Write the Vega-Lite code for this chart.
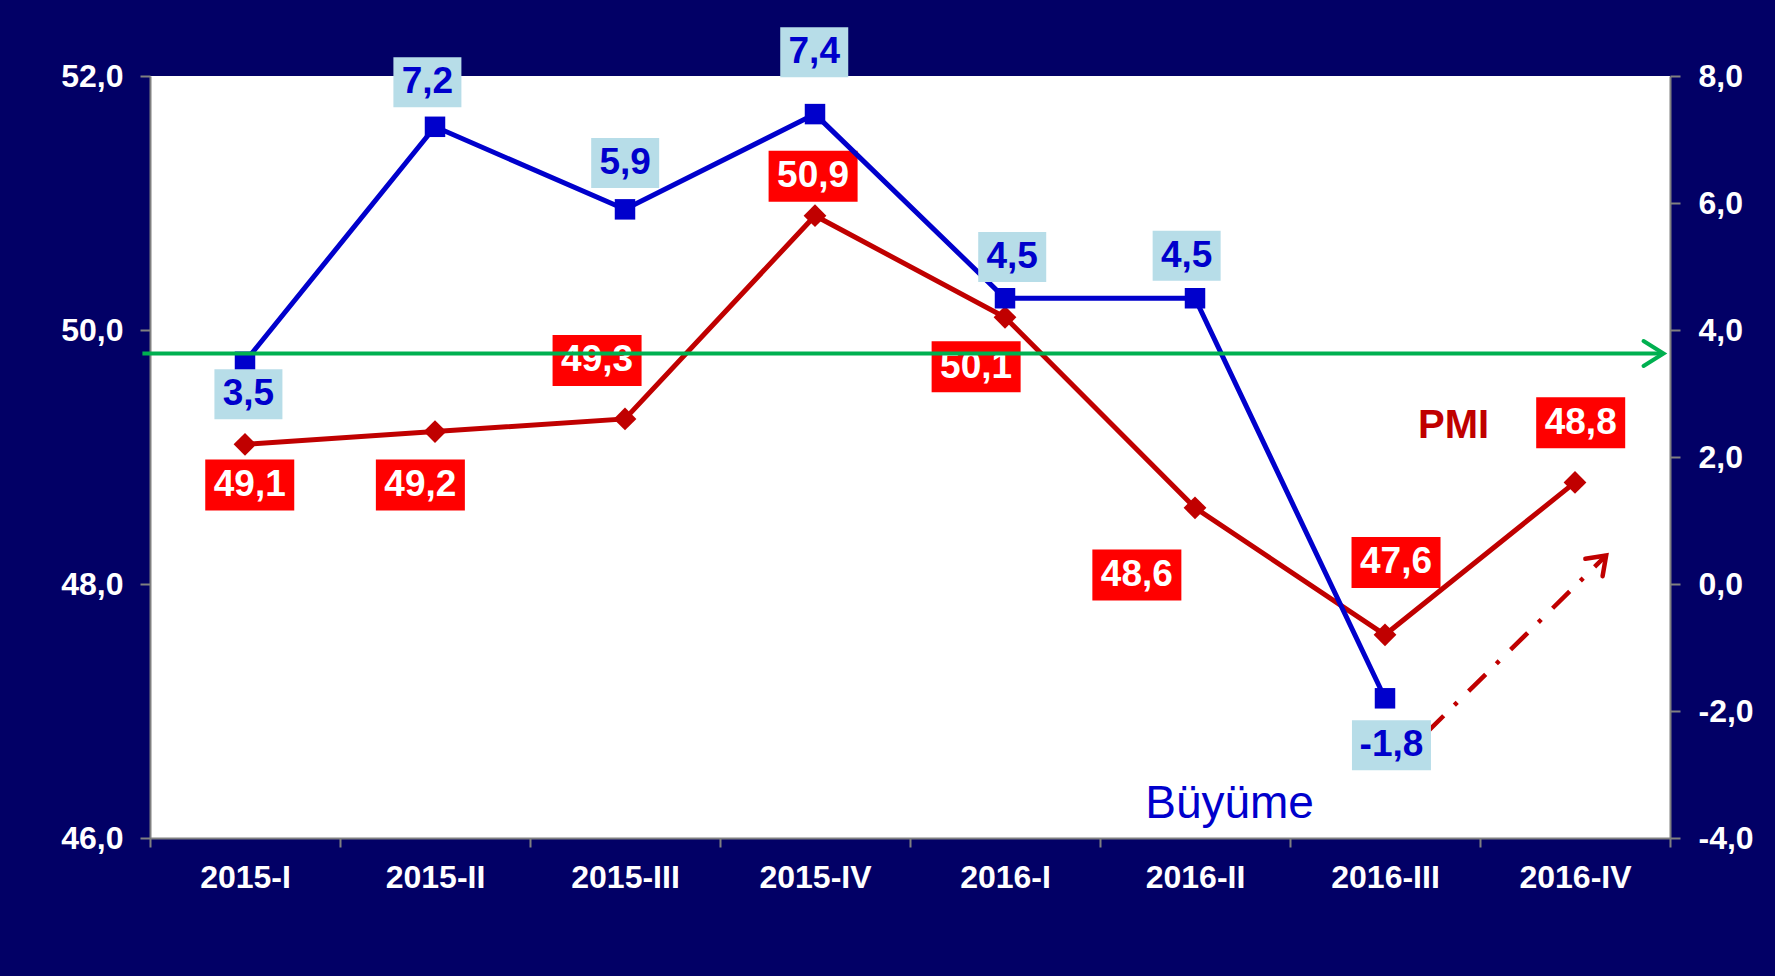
{
  "$schema": "https://vega.github.io/schema/vega-lite/v6.json",
  "width": 1520,
  "height": 762,
  "autosize": {"type": "none"},
  "padding": {"left": 150, "top": 76, "right": 105, "bottom": 138},
  "background": "#020066",
  "config": {
    "view": {"fill": "#FFFFFF", "stroke": null},
    "axis": {
      "domainColor": "#808080", "domainWidth": 2,
      "tickColor": "#808080", "tickWidth": 2, "tickSize": 10,
      "labelColor": "#FFFFFF", "labelFont": "Liberation Sans", "labelFontWeight": "bold", "labelFontSize": 32,
      "grid": false
    },
    "text": {"font": "Liberation Sans"}
  },
  "datasets": {
    "pmi": [
      {"q": "2015-I", "i": 0, "v": 49.1},
      {"q": "2015-II", "i": 1, "v": 49.2},
      {"q": "2015-III", "i": 2, "v": 49.3},
      {"q": "2015-IV", "i": 3, "v": 50.9},
      {"q": "2016-I", "i": 4, "v": 50.1},
      {"q": "2016-II", "i": 5, "v": 48.6},
      {"q": "2016-III", "i": 6, "v": 47.6},
      {"q": "2016-IV", "i": 7, "v": 48.8}
    ],
    "buy": [
      {"q": "2015-I", "i": 0, "v": 3.5},
      {"q": "2015-II", "i": 1, "v": 7.2},
      {"q": "2015-III", "i": 2, "v": 5.9},
      {"q": "2015-IV", "i": 3, "v": 7.4},
      {"q": "2016-I", "i": 4, "v": 4.5},
      {"q": "2016-II", "i": 5, "v": 4.5},
      {"q": "2016-III", "i": 6, "v": -1.8}
    ],
    "pmiLab": [
      {"i": 0.025, "v": 48.78, "t": "49,1"},
      {"i": 0.923, "v": 48.78, "t": "49,2"},
      {"i": 1.853, "v": 49.76, "t": "49,3"},
      {"i": 2.99, "v": 51.21, "t": "50,9"},
      {"i": 3.848, "v": 49.71, "t": "50,1"},
      {"i": 4.694, "v": 48.07, "t": "48,6"},
      {"i": 6.058, "v": 48.17, "t": "47,6"},
      {"i": 7.03, "v": 49.27, "t": "48,8"}
    ],
    "buyLab": [
      {"i": 0.018, "v": 2.99, "t": "3,5"},
      {"i": 0.96, "v": 7.9, "t": "7,2"},
      {"i": 2.001, "v": 6.63, "t": "5,9"},
      {"i": 2.996, "v": 8.375, "t": "7,4"},
      {"i": 4.038, "v": 5.15, "t": "4,5"},
      {"i": 4.956, "v": 5.17, "t": "4,5"},
      {"i": 6.034, "v": -2.54, "t": "-1,8"}
    ],
    "trend": [
      {"i": 6.219, "v": 46.83},
      {"i": 7.164, "v": 48.225}
    ]
  },
  "layer": [
    {
      "data": {"name": "pmi"},
      "mark": {"type": "line", "color": "#C00000", "strokeWidth": 5},
      "encoding": {
        "x": {
          "field": "i", "type": "quantitative",
          "scale": {"domain": [-0.5, 7.5], "nice": false, "zero": false},
          "axis": {
            "title": null,
            "orient": "bottom",
            "values": [-0.5, 0, 0.5, 1, 1.5, 2, 2.5, 3, 3.5, 4, 4.5, 5, 5.5, 6, 6.5, 7, 7.5],
            "labelExpr": "datum.value % 1 === 0 ? ['2015-I','2015-II','2015-III','2015-IV','2016-I','2016-II','2016-III','2016-IV'][datum.value] : ''",
            "tickOpacity": {"condition": {"test": "datum.value % 1 === 0", "value": 0}, "value": 1},
            "tickSize": 9, "labelPadding": 15,
            "labelOverlap": false, "labelFlush": false, "labelBound": false
          }
        },
        "y": {
          "field": "v", "type": "quantitative",
          "scale": {"domain": [46, 52], "nice": false, "zero": false},
          "axis": {
            "title": null,
            "orient": "left", "values": [46, 48, 50, 52],
            "labelExpr": "replace(format(datum.value, '.1f'), '.', ',')",
            "labelPadding": 17
          }
        }
      }
    },
    {
      "data": {"name": "pmi"},
      "mark": {"type": "point", "shape": "diamond", "filled": true, "color": "#C00000", "size": 520, "opacity": 1},
      "encoding": {
        "x": {"field": "i", "type": "quantitative", "scale": {"domain": [-0.5, 7.5], "nice": false, "zero": false}, "axis": null},
        "y": {"field": "v", "type": "quantitative", "scale": {"domain": [46, 52], "nice": false, "zero": false}, "axis": null}
      }
    },
    {
      "data": {"name": "trend"},
      "mark": {"type": "line", "color": "#C00000", "strokeWidth": 4.5, "strokeDash": [24, 15, 4, 16]},
      "encoding": {
        "x": {"field": "i", "type": "quantitative", "scale": {"domain": [-0.5, 7.5], "nice": false, "zero": false}, "axis": null},
        "y": {"field": "v", "type": "quantitative", "scale": {"domain": [46, 52], "nice": false, "zero": false}, "axis": null}
      }
    },
    {
      "data": {"values": [{"i": 7.164, "v": 48.225}]},
      "mark": {"type": "point", "shape": "M-1.4,-1L0,0L-1.4,1", "filled": false, "stroke": "#C00000", "strokeWidth": 4.5, "size": 600, "angle": 315.3, "opacity": 1, "strokeCap": "round"},
      "encoding": {
        "x": {"field": "i", "type": "quantitative", "scale": {"domain": [-0.5, 7.5], "nice": false, "zero": false}, "axis": null},
        "y": {"field": "v", "type": "quantitative", "scale": {"domain": [46, 52], "nice": false, "zero": false}, "axis": null}
      }
    },
    {
      "data": {"name": "pmiLab"},
      "mark": {"type": "point", "shape": "M-1,-0.573H1V0.573H-1Z", "filled": true, "color": "#FF0000", "size": 7921, "opacity": 1, "strokeWidth": 0},
      "encoding": {
        "x": {"field": "i", "type": "quantitative", "scale": {"domain": [-0.5, 7.5], "nice": false, "zero": false}, "axis": null},
        "y": {"field": "v", "type": "quantitative", "scale": {"domain": [46, 52], "nice": false, "zero": false}, "axis": null}
      }
    },
    {
      "data": {"name": "pmiLab"},
      "mark": {"type": "text", "color": "#FFFFFF", "fontSize": 37, "fontWeight": "bold", "align": "center", "baseline": "middle"},
      "encoding": {
        "x": {"field": "i", "type": "quantitative", "scale": {"domain": [-0.5, 7.5], "nice": false, "zero": false}, "axis": null},
        "y": {"field": "v", "type": "quantitative", "scale": {"domain": [46, 52], "nice": false, "zero": false}, "axis": null},
        "text": {"field": "t"}
      }
    },
    {
      "data": {"values": [{"i": 6.361, "v": 49.15, "t": "PMI"}]},
      "mark": {"type": "text", "color": "#C00000", "fontSize": 40, "fontWeight": "bold", "align": "center", "baseline": "alphabetic"},
      "encoding": {
        "x": {"field": "i", "type": "quantitative", "scale": {"domain": [-0.5, 7.5], "nice": false, "zero": false}, "axis": null},
        "y": {"field": "v", "type": "quantitative", "scale": {"domain": [46, 52], "nice": false, "zero": false}, "axis": null},
        "text": {"field": "t"}
      }
    },
    {
      "data": {"values": [{"i": 5.182, "v": 46.16, "t": "Büyüme"}]},
      "mark": {"type": "text", "color": "#0000CC", "fontSize": 46, "fontWeight": "normal", "align": "center", "baseline": "alphabetic"},
      "encoding": {
        "x": {"field": "i", "type": "quantitative", "scale": {"domain": [-0.5, 7.5], "nice": false, "zero": false}, "axis": null},
        "y": {"field": "v", "type": "quantitative", "scale": {"domain": [46, 52], "nice": false, "zero": false}, "axis": null},
        "text": {"field": "t"}
      }
    },
    {
      "data": {"name": "buy"},
      "mark": {"type": "line", "color": "#0000CC", "strokeWidth": 5},
      "encoding": {
        "x": {"field": "i", "type": "quantitative", "scale": {"domain": [-0.5, 7.5], "nice": false, "zero": false}, "axis": null},
        "y": {
          "field": "v", "type": "quantitative",
          "scale": {"domain": [-4, 8], "nice": false, "zero": false},
          "axis": {
            "title": null,
            "orient": "right", "values": [-4, -2, 0, 2, 4, 6, 8],
            "labelExpr": "replace(replace(format(datum.value, '.1f'), '.', ','), '\u2212', '-')",
            "labelPadding": 18
          }
        }
      }
    },
    {
      "data": {"name": "buy"},
      "mark": {"type": "point", "shape": "square", "filled": true, "color": "#0000CC", "size": 420, "opacity": 1},
      "encoding": {
        "x": {"field": "i", "type": "quantitative", "scale": {"domain": [-0.5, 7.5], "nice": false, "zero": false}, "axis": null},
        "y": {"field": "v", "type": "quantitative", "scale": {"domain": [-4, 8], "nice": false, "zero": false}, "axis": null}
      }
    },
    {
      "data": {"name": "buyLab"},
      "mark": {"type": "point", "filled": true, "color": "#B7DDE8", "opacity": 1, "strokeWidth": 0},
      "encoding": {
        "x": {"field": "i", "type": "quantitative", "scale": {"domain": [-0.5, 7.5], "nice": false, "zero": false}, "axis": null},
        "y": {"field": "v", "type": "quantitative", "scale": {"domain": [-4, 8], "nice": false, "zero": false}, "axis": null},
        "shape": {"condition": {"test": "datum.t === '-1,8'", "value": "M-1,-0.633H1V0.633H-1Z"}, "value": "M-1,-0.735H1V0.735H-1Z"},
        "size": {"condition": {"test": "datum.t === '-1,8'", "value": 6241}, "value": 4624}
      }
    },
    {
      "data": {"name": "buyLab"},
      "mark": {"type": "text", "color": "#0000CC", "fontSize": 37, "fontWeight": "bold", "align": "center", "baseline": "middle"},
      "encoding": {
        "x": {"field": "i", "type": "quantitative", "scale": {"domain": [-0.5, 7.5], "nice": false, "zero": false}, "axis": null},
        "y": {"field": "v", "type": "quantitative", "scale": {"domain": [-4, 8], "nice": false, "zero": false}, "axis": null},
        "text": {"field": "t"}
      }
    },
    {
      "data": {"values": [{"a": -0.54, "b": 7.455, "v": 49.815}]},
      "mark": {"type": "rule", "color": "#00B050", "strokeWidth": 4},
      "encoding": {
        "x": {"field": "a", "type": "quantitative", "scale": {"domain": [-0.5, 7.5], "nice": false, "zero": false}, "axis": null},
        "x2": {"field": "b"},
        "y": {"field": "v", "type": "quantitative", "scale": {"domain": [46, 52], "nice": false, "zero": false}, "axis": null}
      }
    },
    {
      "data": {"values": [{"i": 7.466, "v": 49.815}]},
      "mark": {"type": "point", "shape": "M-1.6,-1L0,0L-1.6,1", "filled": false, "stroke": "#00B050", "strokeWidth": 4, "size": 625, "opacity": 1, "strokeCap": "round"},
      "encoding": {
        "x": {"field": "i", "type": "quantitative", "scale": {"domain": [-0.5, 7.5], "nice": false, "zero": false}, "axis": null},
        "y": {"field": "v", "type": "quantitative", "scale": {"domain": [46, 52], "nice": false, "zero": false}, "axis": null}
      }
    }
  ],
  "resolve": {"scale": {"x": "independent", "y": "independent"}}
}
